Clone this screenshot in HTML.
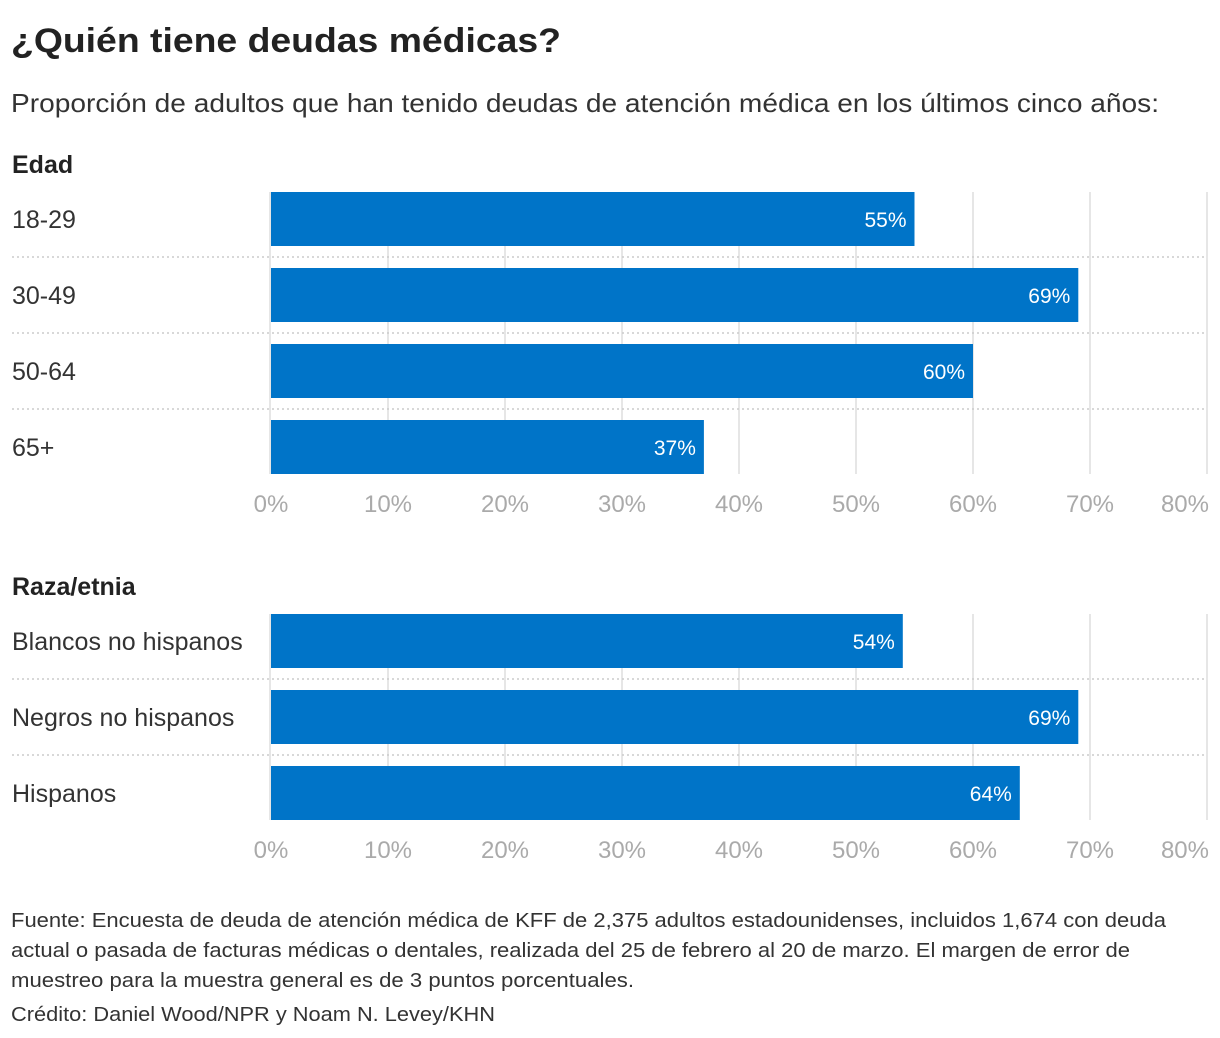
<!DOCTYPE html>
<html><head><meta charset="utf-8"><style>
body{margin:0;background:#fff;}
svg{display:block;font-family:"Liberation Sans",sans-serif;}
</style></head><body>
<svg id="c" width="1220" height="1038">
<text x="11" y="52" font-size="34" font-weight="bold" fill="#222" textLength="550" lengthAdjust="spacingAndGlyphs">¿Quién tiene deudas médicas?</text>
<text x="11" y="112" font-size="26" fill="#333" textLength="1148" lengthAdjust="spacingAndGlyphs">Proporción de adultos que han tenido deudas de atención médica en los últimos cinco años:</text>
<g id="g1"></g>
<g id="g2"></g>
<g font-size="20" fill="#333">
<text x="11" y="927" textLength="1155" lengthAdjust="spacingAndGlyphs">Fuente: Encuesta de deuda de atención médica de KFF de 2,375 adultos estadounidenses, incluidos 1,674 con deuda</text>
<text x="11" y="957" textLength="1119" lengthAdjust="spacingAndGlyphs">actual o pasada de facturas médicas o dentales, realizada del 25 de febrero al 20 de marzo. El margen de error de</text>
<text x="11" y="987" textLength="623" lengthAdjust="spacingAndGlyphs">muestreo para la muestra general es de 3 puntos porcentuales.</text>
<text x="11" y="1021" textLength="484" lengthAdjust="spacingAndGlyphs">Crédito: Daniel Wood/NPR y Noam N. Levey/KHN</text>
</g>
</svg>
<script>
const ageCategories=["18-29","30-49","50-64","65+"];
const ageValues=[55,69,60,37];
const raceCategories=["Blancos no hispanos","Negros no hispanos","Hispanos"];
const raceValues=[54,69,64];
const tickValues=[0,10,20,30,40,50,60,70,80];
const tickLabels=["0%","10%","20%","30%","40%","50%","60%","70%","80%"];
const NS="http://www.w3.org/2000/svg";
const x0=271,x1=1207,xmax=80;
const xs=v=>x0+(x1-x0)*v/xmax;
function mk(p,t,a){const e=document.createElementNS(NS,t);for(const k in a)e.setAttribute(k,a[k]);p.appendChild(e);return e;}
function panel(g,title,titleY,cats,vals,top){
  const pitch=76,bh=54;
  const t=mk(g,"text",{x:12,y:titleY,"font-size":25,"font-weight":"bold",fill:"#222"});
  t.textContent=title;
  
  
  const bottom=top+pitch*(cats.length-1)+bh;
  tickValues.forEach((v,i)=>{
    if(i>0){const l=mk(g,"line",{x1:xs(v),x2:xs(v),y1:top,y2:bottom,stroke:"#e6e6e6","stroke-width":2});
    
    }
    const last=i===tickValues.length-1;
    const tx=mk(g,"text",{x:last?xs(v)+2:xs(v),y:bottom+38,"font-size":24,fill:"#aaa","text-anchor":last?"end":"middle"});
    tx.textContent=tickLabels[i];
    
    
  });
  mk(g,"line",{x1:x0-1,x2:x0-1,y1:top,y2:bottom,stroke:"#e6e6e6","stroke-width":2});
  cats.forEach((c,i)=>{
    const y=top+i*pitch;
    if(i>0){const d=mk(g,"line",{x1:12,x2:x1,y1:y-11,y2:y-11,stroke:"#ccc","stroke-width":1.5,"stroke-dasharray":"2,3"});
    
    }
    const lb=mk(g,"text",{x:12,y:y+bh/2+9,"font-size":25,fill:"#333"});
    lb.textContent=c;
    
    
    const r=mk(g,"rect",{x:x0,y:y,width:xs(vals[i])-x0,height:bh,fill:"#0074c8"});
    
    
    const vt=mk(g,"text",{x:xs(vals[i])-8,y:y+bh/2+8,"font-size":21,fill:"#fff","text-anchor":"end"});
    vt.textContent=vals[i]+"%";
    
    
  });
}
panel(document.getElementById("g1"),"Edad",173,ageCategories,ageValues,192);
panel(document.getElementById("g2"),"Raza/etnia",595,raceCategories,raceValues,614);
</script>
</body></html>
